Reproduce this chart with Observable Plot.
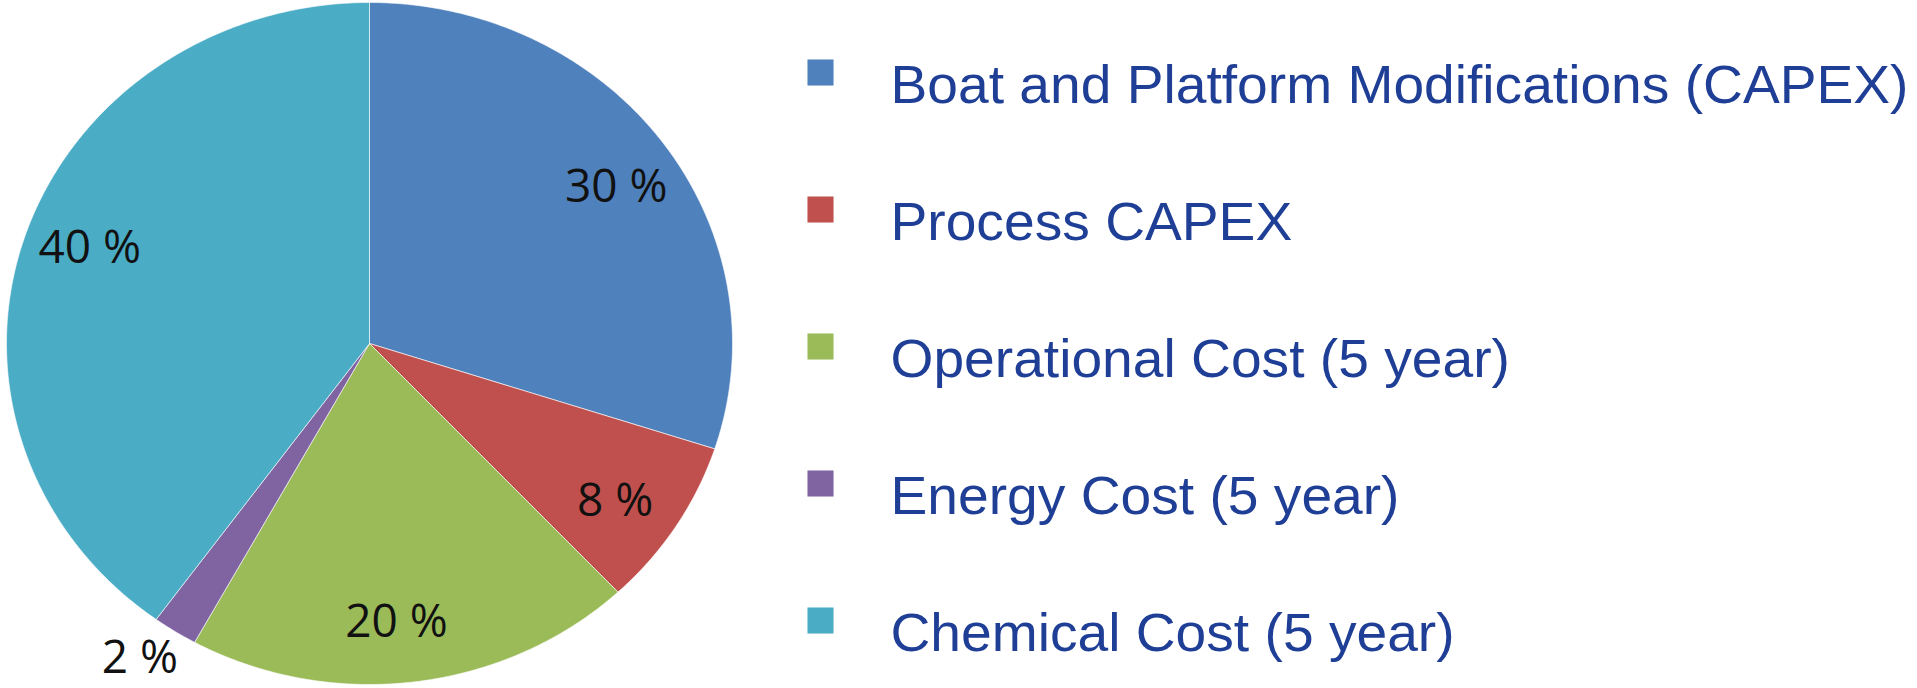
<!DOCTYPE html>
<html><head><meta charset="utf-8">
<script src="https://cdn.jsdelivr.net/npm/d3@7"></script>
<script src="https://cdn.jsdelivr.net/npm/@observablehq/plot@0.6"></script>
<style>
html,body{margin:0;padding:0;background:#fff;}
#chart{display:flex;width:1917px;height:688px;overflow:hidden;}
#chart svg{display:block;flex:none;}
</style></head><body><div id="chart"></div>
<script>
const categories = ["Boat and Platform Modifications (CAPEX)", "Process CAPEX", "Operational Cost (5 year)", "Energy Cost (5 year)", "Chemical Cost (5 year)"];
const values = [30, 8, 20, 2, 40];
const labels = ["30 %", "8 %", "20 %", "2 %", "40 %"];
const colors = ["#4F81BD", "#C0504D", "#9BBB59", "#8064A2", "#4BACC6"];

const total = d3.sum(values);
let acc = 0;
const slices = values.map((v, i) => {
  const a0 = acc / total * 2 * Math.PI; acc += v;
  const a1 = acc / total * 2 * Math.PI;
  return {cat: categories[i], value: v, label: labels[i], a0, a1};
});
const pts = slices.flatMap(s => {
  const n = Math.max(2, Math.ceil((s.a1 - s.a0) / (Math.PI / 360)));
  const arc = d3.range(n + 1).map(k => s.a0 + (s.a1 - s.a0) * k / n);
  return [{cat: s.cat, x: 0, y: 0}, ...arc.map(a => ({cat: s.cat, x: Math.sin(a), y: -Math.cos(a)})), {cat: s.cat, x: 0, y: 0}];
});
const nudge = 2 * Math.PI / 180;
const labelPts = slices.map(s => {
  const m = (s.a0 + s.a1) / 2 + nudge;
  const r = s.value < 5 ? 1.12 : 0.82;
  return {label: s.label, x: r * Math.sin(m), y: -r * Math.cos(m)};
});

const pie = Plot.plot({
  width: 760, height: 688, margin: 0,
  x: {domain: [-1, 1], range: [6, 732], axis: null},
  y: {domain: [-1, 1], range: [2, 684], axis: null},
  color: {domain: categories, range: colors},
  marks: [
    Plot.line(pts, {x: "x", y: "y", z: "cat", fill: "cat", stroke: "white", strokeWidth: 1, strokeOpacity: 0.6, curve: "linear"}),
    Plot.text(labelPts, {x: "x", y: "y", text: "label", fontSize: 46, fill: "#111", fontFamily: "Open Sans"})
  ]
});

const legend = Plot.plot({
  width: 1157, height: 688, margin: 0,
  y: {type: "point", domain: categories, range: [70, 621], padding: 0, axis: null},
  color: {domain: categories, range: colors},
  marks: [
    Plot.dot(categories, {y: d => d, frameAnchor: "left", dx: 60, symbol: "square", r: 14.7, fill: d => d}),
    Plot.text(categories, {y: d => d, frameAnchor: "left", dx: 130, dy: 13, text: d => d, textAnchor: "start", fontSize: 54, fill: "#1F3E96", fontFamily: "Liberation Sans, Arial, sans-serif"})
  ]
});

const host = document.getElementById("chart");
host.appendChild(pie);
host.appendChild(legend);

const texts = Array.from(legend.querySelectorAll("text"));
const base = texts.find(t => t.textContent.startsWith("Boat"));
const k = 1018 / base.getComputedTextLength();
texts.forEach(t => {
  const L = t.getComputedTextLength();
  t.setAttribute("textLength", (L * k).toFixed(1));
  t.setAttribute("lengthAdjust", "spacingAndGlyphs");
});
</script>
</body></html>
